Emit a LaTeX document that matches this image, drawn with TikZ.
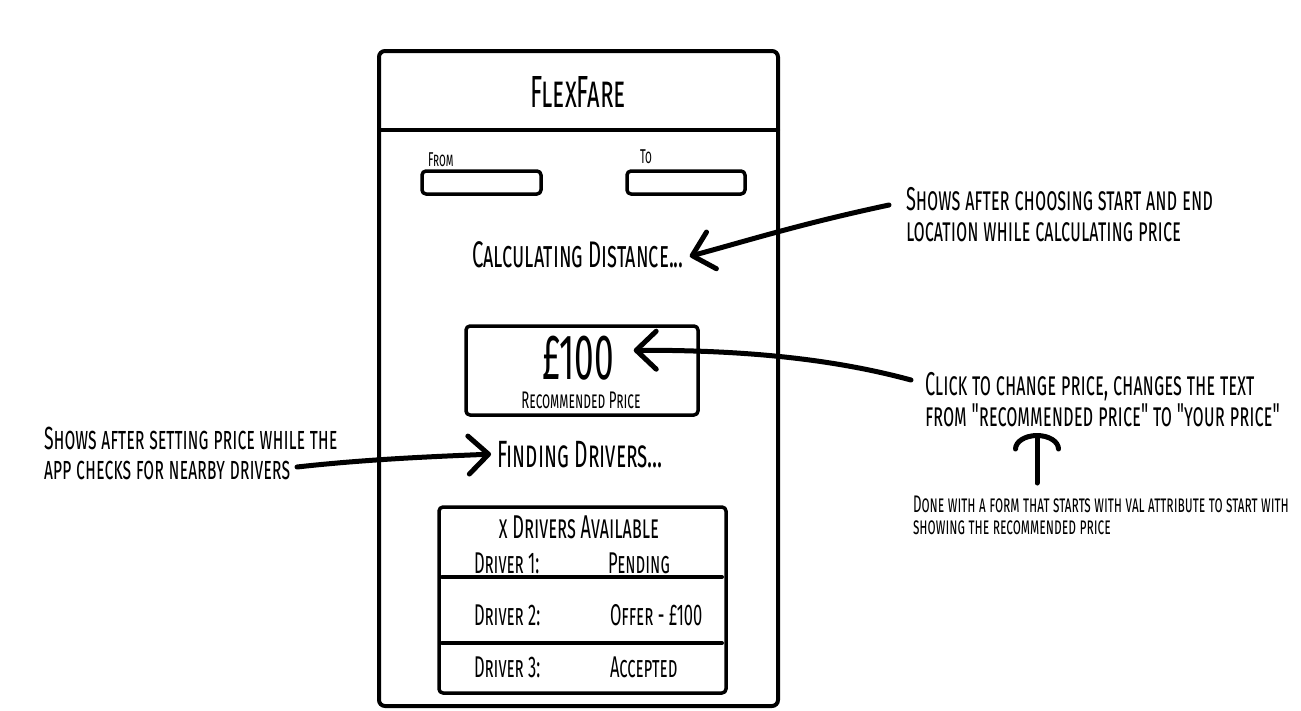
\documentclass[tikz,border=0pt]{standalone}
\usepackage{fontspec}
\usetikzlibrary{arrows.meta}
\newfontfamily\hand{Fira Sans}[Letters=SmallCaps, FakeStretch=0.55]
\newcommand{\hs}[1]{\hand\fontsize{#1}{#1}\selectfont}
\begin{document}
\begin{tikzpicture}[x=1pt,y=-1pt,line cap=round,line join=round,
  frame/.style={draw,line width=4pt,rounded corners=6pt},
  field/.style={draw,line width=3.5pt,rounded corners=4pt},
  rule/.style={line width=4pt},
  txt/.style={inner sep=0pt,outer sep=0pt},
  note/.style={txt,align=left},
  arr/.style={line width=5pt,-{Straight Barb[length=20pt,width=38pt,round]}},
  uparr/.style={line width=5pt,-{Arc Barb[length=16pt,width=48pt,round]}}]
\fill[white] (0,0) rectangle (1301,710);
\useasboundingbox (0,0) rectangle (1301,710);
% phone frame
\draw[frame] (379,51) rectangle (778,706);
\coordinate (hl) at (379,130);
\coordinate (hr) at (778,130);
\draw[rule] (hl) -- (hr);
\node[txt,font=\hs{45},anchor=base] (title) at (578,107) {FlexFare};
% fields
\node[txt,font=\hs{20},anchor=base west] (from) at (428,166) {From};
\node[txt,font=\hs{20},anchor=base west] (to) at (640,163) {To};
\draw[field] (422,171) rectangle (541,194);
\draw[field] (627,171) rectangle (745,194);
% calculating
\node[txt,font=\hs{37},anchor=base] (calc) at (578,267) {Calculating Distance...};
% price box
\draw[field] (466,326) rectangle (698,415);
\node[txt,font=\hs{64},anchor=base,text depth=0pt] (price) at (578,379) {£100};
\node[txt,font=\hs{24},anchor=base] (rec) at (581,408) {Recommended Price};
% finding drivers
\node[txt,font=\hs{38},anchor=base] (find) at (580,467) {Finding Drivers...};
% drivers box
\draw[field] (439,507) rectangle (726,693);
\node[txt,font=\hs{33},anchor=base] (avail) at (579,538) {x Drivers Available};
\node[txt,font=\hs{30},anchor=base west] (d1) at (474,573) {Driver 1:};
\node[txt,font=\hs{30},anchor=base west] (s1) at (608,573) {Pending};
\coordinate (l1a) at (442,577);
\coordinate (l1b) at (722,577);
\draw[rule] (l1a) -- (l1b);
\node[txt,font=\hs{30},anchor=base west] (d2) at (474,625) {Driver 2:};
\node[txt,font=\hs{30},anchor=base west] (s2) at (610,625) {Offer - £100};
\coordinate (l2a) at (442,643);
\coordinate (l2b) at (722,643);
\draw[rule] (l2a) -- (l2b);
\node[txt,font=\hs{30},anchor=base west] (d3) at (474,677) {Driver 3:};
\node[txt,font=\hs{30},anchor=base west] (s3) at (610,677) {Accepted};
% annotations
\node[note,font=\hs{33},anchor=north west] (n1) at (906,187) {Shows after choosing start and end\\[-2pt]location while calculating price};
\node[note,font=\hs{33},anchor=north west] (n2) at (925,372) {Click to change price, changes the text\\[-2pt]from "recommended price" to "your price"};
\node[note,font=\hs{24},anchor=north west] (n3) at (913,496) {Done with a form that starts with val attribute to start with\\[-2pt]showing the recommended price};
\node[note,font=\hs{32},anchor=north west] (n4) at (44,427) {Shows after setting price while the\\[-2pt]app checks for nearby drivers};
% arrows
\coordinate (a1) at (889,205);
\draw[arr] (a1) .. controls (800,224) and (750,240) .. ([xshift=6pt,yshift=-2pt]calc.east);
\coordinate (a2) at (911,380);
\draw[arr] (a2) .. controls (830,358) and (740,350) .. ([xshift=20pt,yshift=7pt]price.east);
\coordinate (a4) at (297,467);
\draw[arr] (a4) .. controls (360,460) and (420,457) .. ([xshift=-6pt]find.west);
\coordinate (a3) at (1037,483);
\draw[uparr] (a3) -- (1037,433);
\end{tikzpicture}
\end{document}
